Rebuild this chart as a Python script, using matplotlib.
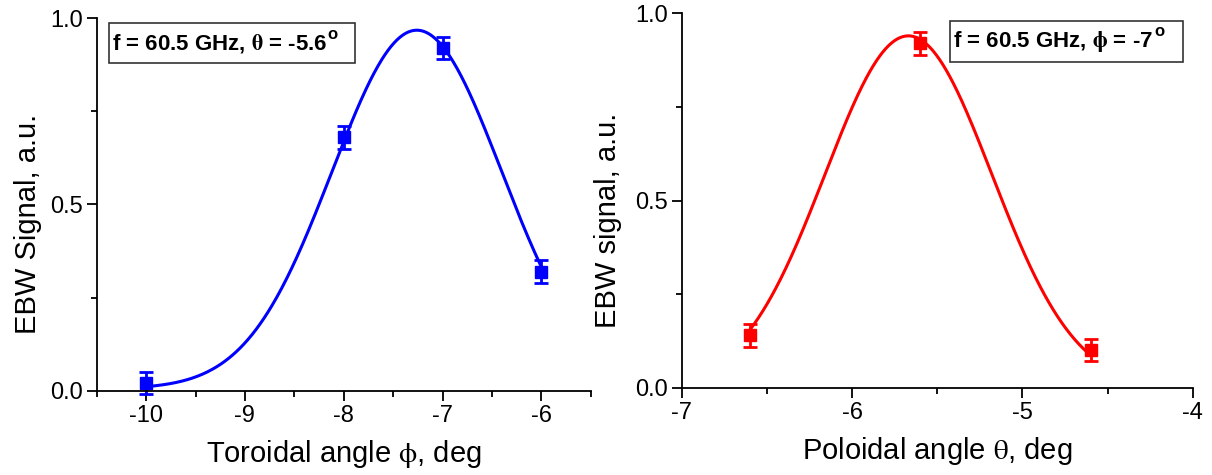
import numpy as np
import matplotlib
matplotlib.use("Agg")
import matplotlib.pyplot as plt
from matplotlib.ticker import MultipleLocator, FormatStrFormatter
from matplotlib.patches import Rectangle

plt.rcParams['font.family'] = ['Liberation Sans', 'DejaVu Sans']
plt.rcParams['mathtext.fontset'] = 'stix'
plt.rcParams['axes.unicode_minus'] = False

# ---- Left panel: toroidal scan ----
tor_angle = [-10, -8, -7, -6]
tor_signal = [0.02, 0.68, 0.92, 0.32]
tor_err = [0.03, 0.03, 0.03, 0.03]
# Gaussian fit parameters
tor_fit_y0, tor_fit_A, tor_fit_xc, tor_fit_w = 0.005, 0.963, -7.26, 0.858

# ---- Right panel: poloidal scan ----
pol_angle = [-6.6, -5.6, -4.6]
pol_signal = [0.14, 0.92, 0.10]
pol_err = [0.03, 0.03, 0.03]
pol_fit_y0, pol_fit_A, pol_fit_xc, pol_fit_w = 0.0, 0.94, -5.67, 0.49

left_xticks = [-10, -9, -8, -7, -6]
right_xticks = [-7, -6, -5, -4]
yticks = [0.0, 0.5, 1.0]


def gauss(x, y0, A, xc, w):
    return y0 + A * np.exp(-(x - xc) ** 2 / (2 * w ** 2))


fig = plt.figure(figsize=(12.12, 4.75), dpi=100)
axL = fig.add_axes([0.0798, 0.1775, 0.4076, 0.784])
axR = fig.add_axes([0.5627, 0.1838, 0.4214, 0.788])


def style(ax, xlim, xticks, xlabel, ylabel):
    ax.set_xlim(*xlim)
    ax.set_ylim(0, 1.0)
    ax.set_xticks(xticks)
    ax.set_yticks(yticks)
    ax.xaxis.set_minor_locator(MultipleLocator(0.5))
    ax.yaxis.set_minor_locator(MultipleLocator(0.25))
    ax.yaxis.set_major_formatter(FormatStrFormatter('%.1f'))
    ax.xaxis.set_major_formatter(FormatStrFormatter('%d'))
    for s in ['top', 'right']:
        ax.spines[s].set_visible(False)
    for s in ['left', 'bottom']:
        ax.spines[s].set_linewidth(1.3)
    ax.tick_params(which='major', direction='out', length=7, width=1.3,
                   labelsize=17, pad=3)
    ax.tick_params(which='minor', direction='out', length=4, width=1.3)
    ax.set_xlabel(xlabel, fontsize=21, labelpad=8)
    ax.set_ylabel(ylabel, fontsize=21)


xs = np.linspace(min(tor_angle), max(tor_angle), 400)
axL.plot(xs, gauss(xs, tor_fit_y0, tor_fit_A, tor_fit_xc, tor_fit_w),
         color='#0000ff', lw=2.2, clip_on=False)
axL.errorbar(tor_angle, tor_signal, yerr=tor_err, fmt='s', color='#0000ff',
             ms=8, capsize=5, capthick=2, elinewidth=2, clip_on=False)
style(axL, (-10.5, -5.5), left_xticks, r'Toroidal angle $\mathrm{\phi}$, deg',
      'EBW Signal, a.u.')
axL.yaxis.set_label_coords(-0.111, 0.448)

xs2 = np.linspace(min(pol_angle), max(pol_angle), 400)
axR.plot(xs2, gauss(xs2, pol_fit_y0, pol_fit_A, pol_fit_xc, pol_fit_w),
         color='#ff0000', lw=2.2, clip_on=False)
axR.errorbar(pol_angle, pol_signal, yerr=pol_err, fmt='s', color='#ff0000',
             ms=8, capsize=5, capthick=2, elinewidth=2, clip_on=False)
style(axR, (-7, -4), right_xticks, r'Poloidal angle $\mathrm{\theta}$, deg',
      'EBW signal, a.u.')
axR.yaxis.set_label_coords(-0.117, 0.448)

W, H = 1212.0, 475.0
renderer = fig.canvas.get_renderer()


def boxed(x0, y0, w, h, tx, ty, label):
    fig.patches.append(Rectangle((x0 / W, 1 - (y0 + h) / H), w / W, h / H,
                                 transform=fig.transFigure, fill=False,
                                 edgecolor='#333333', lw=1.2))
    t = fig.text(tx / W, 1 - ty / H, label, fontsize=16, fontweight='bold',
                 va='center', ha='left')
    bb = t.get_window_extent(renderer)
    # degree sign drawn as a raised "o"
    fig.text((bb.x1 + 1) / W, (bb.y1 + 5) / H, 'o', fontsize=12,
             fontweight='bold', va='top', ha='left')


boxed(109, 22.7, 246, 40, 111.5, 43.5,
      r'f = 60.5 GHz, $\mathbf{\theta}$ = -5.6')
boxed(950, 20.7, 233, 41.3, 953, 42.0,
      r'f = 60.5 GHz, $\mathbf{\phi}$ = -7')

fig.savefig('out.png', dpi=100)
